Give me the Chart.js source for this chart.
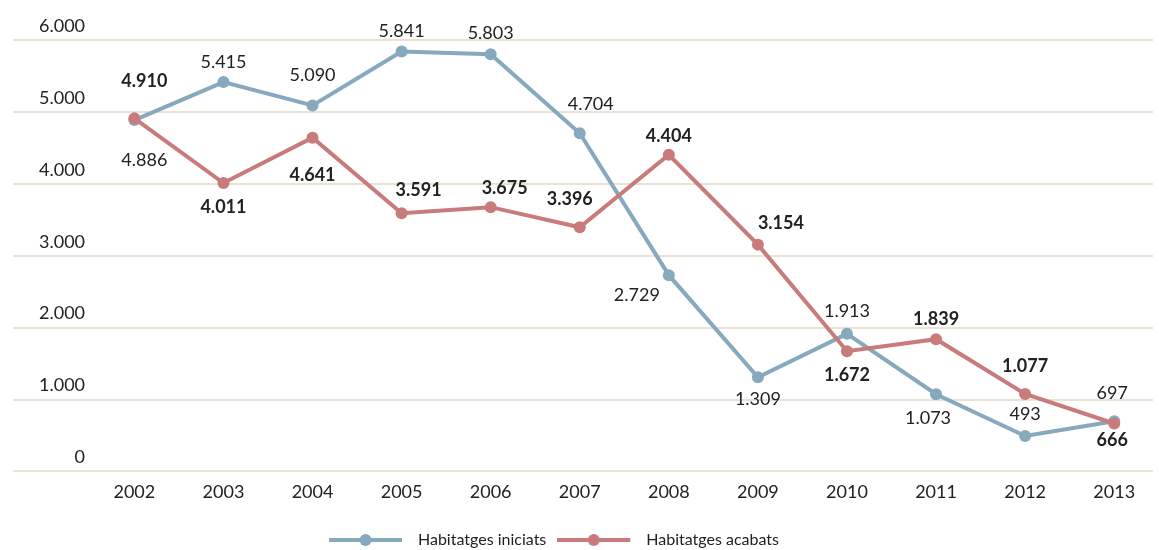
<!DOCTYPE html>
<html>
<head>
<meta charset="utf-8">
<script src="https://cdn.jsdelivr.net/npm/chart.js@4"></script>
<style>
    html, body { margin: 0; padding: 0; background: #fff; }
    #wrap { width: 1159px; height: 550px; }
</style>
</head>
<body>
<div id="wrap"><canvas id="habChart"></canvas></div>
<script>
// 🔹 DATA
const years = [2002, 2003, 2004, 2005, 2006, 2007, 2008, 2009, 2010, 2011, 2012, 2013];
const iniciats = [4886, 5415, 5090, 5841, 5803, 4704, 2729, 1309, 1913, 1073, 493, 697];
const acabats = [4910, 4011, 4641, 3591, 3675, 3396, 4404, 3154, 1672, 1839, 1077, 666];
const yTicks = [0, 1000, 2000, 3000, 4000, 5000, 6000];

// 🔹 where each value label sits relative to its point [dx, dy]
const iniciatsLabelPos = [[10, 40], [0, -20], [0, -30], [0, -20], [0, -21], [11, -29],
                          [-32, 20], [0, 22], [0, -23], [-8, 24], [0, -22], [-2, -28]];
const acabatsLabelPos = [[10, -37], [0, 24], [0, 37], [17, -23], [14, -19], [-10, -28],
                         [0, -19], [23, -21], [0, 24], [0, -20], [0, -28], [-2, 17]];

const BLUE = "#87a9bd";
const RED = "#c97b7c";
const TEXT = "#222";
const FONT = "Lato";

// 🔥 1.000 style numbers
function fmt(v) {
    return String(v).replace(/\B(?=(\d{3})+(?!\d))/g, ".");
}

// 🔥 legend symbol: line with a dot in the middle
function legendSymbol(color) {
    const c = document.createElement("canvas");
    c.width = 81;
    c.height = 14;
    const ctx = c.getContext("2d");
    ctx.strokeStyle = color;
    ctx.lineWidth = 4;
    ctx.beginPath();
    ctx.moveTo(0, 7);
    ctx.lineTo(73, 7);
    ctx.stroke();
    ctx.fillStyle = color;
    ctx.beginPath();
    ctx.arc(36.5, 7, 6, 0, Math.PI * 2);
    ctx.fill();
    return c;
}

// 🔥 value labels next to the points
const valueLabels = {
    id: "valueLabels",
    afterDatasetsDraw(chart) {
        const ctx = chart.ctx;
        ctx.save();
        ctx.textAlign = "center";
        ctx.textBaseline = "middle";
        ctx.fillStyle = TEXT;
        chart.data.datasets.forEach((ds, di) => {
            const meta = chart.getDatasetMeta(di);
            ctx.font = (ds.labelBold ? "bold " : "") + "18px " + FONT;
            meta.data.forEach((pt, i) => {
                const [dx, dy] = ds.labelPos[i];
                ctx.fillText(fmt(ds.data[i].y), pt.x + dx, pt.y + dy);
            });
        });
        ctx.restore();
    }
};

// 🔥 nudge the legend under the plot
const legendNudge = {
    id: "legendNudge",
    afterLayout(chart) {
        const lg = chart.legend;
        if (!lg) return;
        lg.left -= 32;
        lg.right -= 32;
        lg.top += 8;
        lg.bottom += 8;
    }
};

function points(values) {
    return values.map((v, i) => ({ x: years[i], y: v }));
}

function createChart() {
    new Chart(document.getElementById("habChart"), {
        type: "line",
        data: {
            datasets: [
                {
                    label: "Habitatges iniciats",
                    data: points(iniciats),
                    borderColor: BLUE,
                    backgroundColor: BLUE,
                    pointBackgroundColor: BLUE,
                    legendSymbol: legendSymbol(BLUE),
                    labelPos: iniciatsLabelPos,
                    labelBold: false,
                    order: 1
                },
                {
                    label: "Habitatges acabats",
                    data: points(acabats),
                    borderColor: RED,
                    backgroundColor: RED,
                    pointBackgroundColor: RED,
                    legendSymbol: legendSymbol(RED),
                    labelPos: acabatsLabelPos,
                    labelBold: true,
                    order: 0
                }
            ]
        },
        options: {
            responsive: true,
            maintainAspectRatio: false,
            animation: false,
            layout: { padding: { top: 40, left: 13, right: 0, bottom: 0 } },
            elements: {
                line: { borderWidth: 4, tension: 0 },
                point: { radius: 6, borderWidth: 0, hoverRadius: 6, pointStyle: "circle" }
            },
            scales: {
                x: {
                    type: "linear",
                    min: 2000.6375,
                    max: 2013.4355,
                    afterBuildTicks: s => { s.ticks = years.map(y => ({ value: y })); },
                    grid: { display: false, drawTicks: false },
                    border: { display: false },
                    ticks: {
                        autoSkip: false,
                        padding: 10,
                        color: TEXT,
                        font: { family: FONT, size: 18 },
                        callback: v => String(v)
                    }
                },
                y: {
                    min: 0,
                    max: 6000,
                    afterBuildTicks: s => { s.ticks = yTicks.map(v => ({ value: v })); },
                    afterFit: s => { s.width = 0; },
                    grid: { color: "#e8e3d2", lineWidth: 2, drawTicks: false },
                    border: { display: false },
                    ticks: {
                        mirror: true,
                        crossAlign: "far",
                        padding: 26,
                        labelOffset: -14,
                        color: TEXT,
                        font: { family: FONT, size: 18 },
                        callback: v => fmt(v)
                    }
                }
            },
            plugins: {
                tooltip: { enabled: false },
                legend: {
                    position: "bottom",
                    labels: {
                        usePointStyle: true,
                        pointStyleWidth: 81,
                        padding: 11,
                        color: TEXT,
                        font: { family: FONT, size: 16 },
                        generateLabels(chart) {
                            const items = Chart.defaults.plugins.legend.labels.generateLabels(chart);
                            items.sort((a, b) => a.datasetIndex - b.datasetIndex);
                            items.forEach(it => {
                                it.pointStyle = chart.data.datasets[it.datasetIndex].legendSymbol;
                            });
                            return items;
                        }
                    }
                }
            }
        },
        plugins: [valueLabels, legendNudge]
    });
}

window.onload = createChart;
</script>
</body>
</html>
